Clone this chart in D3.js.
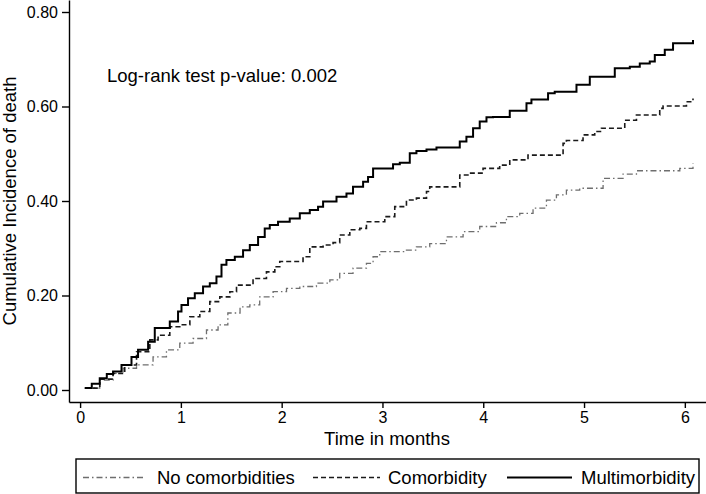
<!DOCTYPE html>
<html>
<head>
<meta charset="utf-8">
<script src="https://cdn.jsdelivr.net/npm/d3@7"></script>
<style>
  body { margin: 0; background: #fff; }
  text { font-family: "Liberation Sans", Arial, Helvetica, sans-serif; fill: #000; }
</style>
</head>
<body>
<svg id="chart" width="706" height="494"></svg>
<script>
// values (time in months, cumulative incidence)
const noComTime = [0.047, 0.195, 0.327, 0.427, 0.560, 0.724, 0.857, 0.989, 1.121, 1.254, 1.369, 1.466, 1.587, 1.684, 1.782, 1.915, 2.048, 2.180, 2.345, 2.478, 2.576, 2.708, 2.841, 2.907, 2.973, 3.238, 3.337, 3.469, 3.635, 3.800, 3.965, 4.131, 4.230, 4.362, 4.494, 4.627, 4.726, 4.825, 4.957, 5.189, 5.387, 5.520, 5.950, 6.081]
const noComValue = [0.004, 0.021, 0.035, 0.046, 0.053, 0.070, 0.085, 0.099, 0.109, 0.127, 0.138, 0.163, 0.176, 0.180, 0.197, 0.208, 0.215, 0.219, 0.226, 0.233, 0.247, 0.258, 0.268, 0.282, 0.293, 0.296, 0.303, 0.310, 0.324, 0.335, 0.346, 0.354, 0.367, 0.374, 0.385, 0.402, 0.413, 0.423, 0.427, 0.448, 0.457, 0.464, 0.469, 0.480]

const comTime = [0.047, 0.195, 0.327, 0.443, 0.560, 0.692, 0.774, 0.890, 0.989, 1.089, 1.188, 1.287, 1.386, 1.486, 1.552, 1.716, 1.849, 1.932, 1.981, 2.212, 2.279, 2.411, 2.510, 2.576, 2.676, 2.775, 2.841, 3.023, 3.122, 3.238, 3.337, 3.437, 3.469, 3.767, 3.866, 3.998, 4.163, 4.263, 4.444, 4.792, 4.825, 4.990, 5.106, 5.173, 5.404, 5.520, 5.751, 5.784, 6.016, 6.081]
const comValue = [0.004, 0.023, 0.035, 0.053, 0.081, 0.106, 0.116, 0.134, 0.138, 0.155, 0.166, 0.187, 0.197, 0.208, 0.222, 0.236, 0.250, 0.261, 0.272, 0.282, 0.303, 0.307, 0.312, 0.328, 0.339, 0.342, 0.356, 0.367, 0.388, 0.402, 0.406, 0.420, 0.430, 0.455, 0.459, 0.469, 0.476, 0.487, 0.497, 0.522, 0.528, 0.540, 0.547, 0.554, 0.571, 0.582, 0.596, 0.601, 0.610, 0.617]

const multiTime = [0.047, 0.116, 0.195, 0.265, 0.327, 0.411, 0.510, 0.575, 0.675, 0.741, 0.890, 0.972, 1.006, 1.071, 1.138, 1.220, 1.287, 1.353, 1.403, 1.452, 1.535, 1.617, 1.684, 1.766, 1.832, 1.882, 1.964, 2.080, 2.180, 2.279, 2.361, 2.411, 2.544, 2.643, 2.708, 2.808, 2.857, 2.907, 3.105, 3.172, 3.271, 3.337, 3.437, 3.536, 3.767, 3.833, 3.899, 3.965, 4.032, 4.097, 4.263, 4.429, 4.478, 4.643, 4.709, 4.925, 5.057, 5.305, 5.454, 5.553, 5.652, 5.702, 5.801, 5.883, 6.081]
const multiValue = [0.004, 0.013, 0.025, 0.034, 0.039, 0.053, 0.070, 0.085, 0.102, 0.131, 0.145, 0.166, 0.180, 0.194, 0.205, 0.219, 0.226, 0.240, 0.265, 0.275, 0.282, 0.296, 0.307, 0.324, 0.342, 0.349, 0.356, 0.363, 0.374, 0.381, 0.388, 0.399, 0.409, 0.416, 0.430, 0.441, 0.451, 0.469, 0.478, 0.481, 0.501, 0.506, 0.509, 0.513, 0.526, 0.536, 0.554, 0.568, 0.577, 0.578, 0.591, 0.607, 0.615, 0.628, 0.631, 0.646, 0.663, 0.681, 0.684, 0.691, 0.695, 0.709, 0.720, 0.734, 0.741]

const xTicks = [0, 1, 2, 3, 4, 5, 6]
const yTicks = [0, 0.2, 0.4, 0.6, 0.8]
const seriesNames = ["No comorbidities", "Comorbidity", "Multimorbidity"]

const series = [
  { name: seriesNames[0], t: noComTime, v: noComValue, stroke: "#6e6e6e", width: 1.3, dash: "6,3,1.5,3" },
  { name: seriesNames[1], t: comTime, v: comValue, stroke: "#1a1a1a", width: 1.6, dash: "5,3" },
  { name: seriesNames[2], t: multiTime, v: multiValue, stroke: "#000", width: 2, dash: null }
]

const svg = d3.select("#chart")

const x = d3.scaleLinear().domain([-0.11, 6.21]).range([69, 706])
const y = d3.scaleLinear().domain([-0.0254, 0.8254]).range([402, 0])

// x axis
const gx = svg.append("g")
  .attr("transform", "translate(0,402)")
  .call(d3.axisBottom(x).tickValues(xTicks).tickFormat(d3.format("d")).tickSize(6).tickSizeOuter(0).tickPadding(4))
gx.select(".domain").attr("stroke", "#000").attr("stroke-width", 1.4)
gx.selectAll(".tick line").attr("stroke-width", 1.4)
gx.selectAll(".tick text").style("font-size", "16px").attr("font-family", null)

// y axis
const gy = svg.append("g")
  .attr("transform", "translate(69,0)")
  .call(d3.axisLeft(y).tickValues(yTicks).tickFormat(d3.format(".2f")).tickSize(7).tickSizeOuter(0).tickPadding(4))
gy.select(".domain").attr("stroke", "#000").attr("stroke-width", 1.4)
gy.selectAll(".tick line").attr("stroke-width", 1.4)
gy.selectAll(".tick text").style("font-size", "16px").attr("font-family", null)

// axis titles
svg.append("text")
  .attr("x", 387).attr("y", 445)
  .attr("text-anchor", "middle")
  .style("font-size", "18.5px")
  .text("Time in months")

svg.append("text")
  .attr("transform", "translate(16,201) rotate(-90)")
  .attr("text-anchor", "middle")
  .style("font-size", "18.5px")
  .text("Cumulative Incidence of death")

svg.append("text")
  .attr("x", 107).attr("y", 82)
  .style("font-size", "18.5px")
  .text("Log-rank test p-value: 0.002")

// curves
const line = d3.line()
  .x(d => x(d[0]))
  .y(d => y(d[1]))
  .curve(d3.curveStepAfter)

series.forEach(s => {
  const pts = s.t.map((t, i) => [t, s.v[i]])
  svg.append("path")
    .attr("d", line(pts))
    .attr("fill", "none")
    .attr("stroke", s.stroke)
    .attr("stroke-width", s.width)
    .attr("stroke-dasharray", s.dash)
})

// legend
const legend = svg.append("g")
legend.append("rect")
  .attr("x", 76).attr("y", 459).attr("width", 623).attr("height", 34)
  .attr("fill", "#fff").attr("stroke", "#000").attr("stroke-width", 1.4)

const legendPos = [
  { x1: 83, x2: 146, tx: 157 },
  { x1: 313, x2: 380, tx: 388 },
  { x1: 507, x2: 572, tx: 581 }
]
series.forEach((s, i) => {
  const p = legendPos[i]
  legend.append("line")
    .attr("x1", p.x1).attr("x2", p.x2).attr("y1", 477.5).attr("y2", 477.5)
    .attr("stroke", s.stroke)
    .attr("stroke-width", s.width)
    .attr("stroke-dasharray", s.dash)
  legend.append("text")
    .attr("x", p.tx).attr("y", 483.5)
    .style("font-size", "18.5px")
    .text(s.name)
})
</script>
</body>
</html>
